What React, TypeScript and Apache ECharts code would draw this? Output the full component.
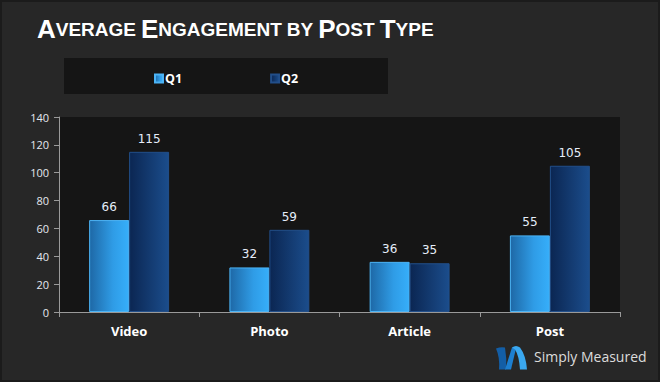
import React, { useEffect, useRef } from "react";
import * as echarts from "echarts";

const categories = ["Video", "Photo", "Article", "Post"];
const q1Values = [66, 32, 36, 55];
const q2Values = [115, 59, 35, 105];
const seriesNames = ["Q1", "Q2"];
const titleWords = ["Average", "Engagement", "by", "Post", "Type"];

echarts.graphic.registerShape(
  "smLogoA",
  echarts.graphic.extendPath("M0,3 Q5,1 9,2 Q11,13 10,24 L3,24 Q4,12 0,3 Z", {})
);
echarts.graphic.registerShape(
  "smLogoB",
  echarts.graphic.extendPath("M9,24 L16,2 Q18,1 20,3 L15,24 Z", {})
);
echarts.graphic.registerShape(
  "smLogoC",
  echarts.graphic.extendPath("M16,2 Q20,-1 24,2 Q30,10 31,24 L24,24 Q23,10 19,4 Z", {})
);

export default function App() {
  const ref = useRef<HTMLDivElement>(null);
  useEffect(() => {
    if (!ref.current) return;
    const chart = echarts.init(ref.current, null, { renderer: "svg" });
    const titleRich = titleWords
      .map((w) => {
        const first = w[0];
        const isCap = first === first.toUpperCase();
        return isCap
          ? `{big|${first}}{sm|${w.slice(1).toUpperCase()}}`
          : `{sm|${w.toUpperCase()}}`;
      })
      .join("{sp| }");
    const q1Grad = new echarts.graphic.LinearGradient(0, 0, 1, 0, [
      { offset: 0, color: "#1e68a6" },
      { offset: 0.6, color: "#2f9ce6" },
      { offset: 1, color: "#36aefa" },
    ]);
    const q2Grad = new echarts.graphic.LinearGradient(0, 0, 1, 0, [
      { offset: 0, color: "#0b2652" },
      { offset: 1, color: "#1b4d8c" },
    ]);
    const labelStyle = {
      show: true,
      position: "top" as const,
      distance: 7,
      color: "#e6eefa",
      fontSize: 12,
      fontFamily: "DejaVu Sans",
    };
    chart.setOption({
      animation: false,
      backgroundColor: "#1b1b1b",
      title: {
        text: titleRich,
        left: 37,
        top: 16,
        padding: 0,
        textStyle: {
          rich: {
            big: { fontSize: 26, fontWeight: "bold", color: "#ffffff", fontFamily: "Liberation Sans" },
            sm: { fontSize: 19, fontWeight: "bold", color: "#ffffff", fontFamily: "Liberation Sans" },
            sp: { fontSize: 18, color: "#ffffff", fontFamily: "Liberation Sans" },
          },
        },
      },
      legend: {
        data: seriesNames,
        left: 149,
        top: 67,
        itemWidth: 8,
        itemHeight: 8,
        itemGap: 88,
        icon: "rect",
        textStyle: {
          color: "#ffffff",
          fontWeight: "bold",
          fontSize: 12.5,
          fontFamily: "Open Sans",
          padding: [0, 0, 0, -3],
        },
      },
      grid: {
        left: 59,
        top: 117,
        right: 40,
        bottom: 70,
        show: true,
        backgroundColor: "#151515",
        borderWidth: 0,
      },
      xAxis: {
        type: "category",
        data: categories,
        axisLine: { lineStyle: { color: "#9a9a9a", width: 1 } },
        axisTick: { show: true, length: 5, lineStyle: { color: "#9a9a9a" } },
        axisLabel: {
          color: "#ffffff",
          fontWeight: "bold",
          fontSize: 13,
          fontFamily: "Open Sans",
          margin: 12,
        },
      },
      yAxis: {
        type: "value",
        min: 0,
        max: 140,
        interval: 20,
        axisLine: { show: true, lineStyle: { color: "#9a9a9a", width: 1 } },
        axisTick: { show: true, length: 5, lineStyle: { color: "#9a9a9a" } },
        splitLine: { show: false },
        axisLabel: {
          color: "#e4e8ee",
          fontSize: 11,
          fontFamily: "Open Sans",
          margin: 10,
        },
      },
      series: [
        {
          name: seriesNames[0],
          type: "bar",
          data: q1Values,
          barGap: "0%",
          barCategoryGap: "43%",
          itemStyle: { color: q1Grad, borderColor: "#4cb4f6", borderWidth: 1 },
          label: labelStyle,
        },
        {
          name: seriesNames[1],
          type: "bar",
          data: q2Values,
          barGap: "0%",
          barCategoryGap: "43%",
          itemStyle: { color: q2Grad, borderColor: "#224f8a", borderWidth: 1 },
          label: labelStyle,
        },
      ],
      graphic: [
        {
          type: "rect",
          z: -10,
          silent: true,
          shape: { x: 2, y: 2, width: 656, height: 378 },
          style: { fill: "#272727" },
        },
        {
          type: "rect",
          z: -5,
          silent: true,
          shape: { x: 64, y: 58, width: 324, height: 36 },
          style: { fill: "#151515" },
        },
        {
          type: "group",
          left: 496,
          top: 346,
          children: [
            { type: "smLogoA", x: 0, y: 0, style: { fill: "#135ea6" } },
            { type: "smLogoB", x: 0, y: 0, style: { fill: "#1d7fd0" } },
            { type: "smLogoC", x: 0, y: 0, style: { fill: "#3aa8f0" } },
          ],
        },
        {
          type: "text",
          left: 534,
          top: 349,
          style: {
            text: "Simply Measured",
            fill: "#dcdcdc",
            fontSize: 14,
            fontFamily: "Open Sans",
          },
        },
      ],
    });
    return () => chart.dispose();
  }, []);
  return (
    <div
      ref={ref}
      style={{ position: "fixed", left: 0, top: 0, width: 660, height: 382 }}
    />
  );
}
